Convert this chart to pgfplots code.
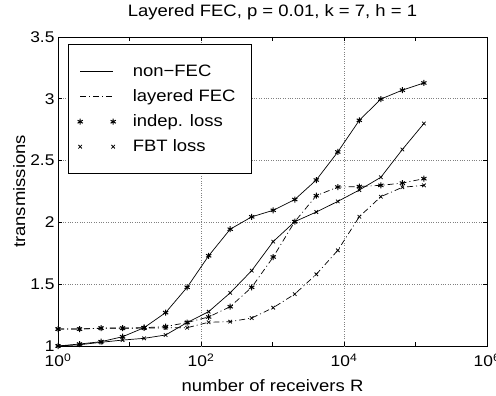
\documentclass[border=0pt]{standalone}
\usepackage{fontspec}
\setmainfont{Liberation Sans}[FakeStretch=1.12]
\usepackage{pgfplots}
\pgfplotsset{compat=1.18}
\usepackage{pgfplotstable}

\pgfplotsset{
  linelegend/.style={legend image code/.code={\draw[##1] (0bp,0bp) -- (33bp,0bp);}},
  marklegend/.style={legend image code/.code={\draw[##1, only marks] plot coordinates {(0bp,0bp) (33bp,0bp)};}},
  mdashdot/.style={dash pattern=on 6bp off 3bp on 1bp off 3bp},
}

\pgfplotstableread{
R      nonind  nonfbt  layind  layfbt
1      1.000   1.000   1.137   1.137
2      1.016   1.010   1.137   1.137
4      1.035   1.030   1.145   1.143
8      1.075   1.048   1.145   1.143
16     1.148   1.062   1.148   1.145
32     1.270   1.089   1.157   1.147
64     1.475   1.190   1.190   1.148
128    1.730   1.278   1.235   1.192
256    1.945   1.430   1.318   1.197
512    2.045   1.610   1.475   1.226
1024   2.098   1.845   1.720   1.310
2048   2.185   2.006   2.006   1.420
4096   2.343   2.084   2.216   1.580
8192   2.570   2.170   2.286   1.774
16384  2.826   2.262   2.290   2.046
32768  2.998   2.365   2.300   2.208
65536  3.070   2.590   2.318   2.284
131072 3.128   2.800   2.354   2.300
}\datatable

\begin{document}
\begin{tikzpicture}
\path[use as bounding box] (0bp,0bp) rectangle (496bp,396bp);
\begin{axis}[
  at={(58bp,50bp)}, anchor=south west,
  scale only axis, width=429bp, height=309bp,
  xmode=log, log basis x=10,
  xmin=1, xmax=1e6, ymin=1, ymax=3.5,
  xtick={1,10,100,1000,10000,100000,1000000},
  xticklabels={10\textsuperscript{0},,10\textsuperscript{2},,10\textsuperscript{4},,10\textsuperscript{6}},
  minor xtick={},
  extra x ticks={100,10000},
  extra x tick labels={},
  extra x tick style={grid=major},
  ytick={1,1.5,2,2.5,3,3.5},
  yticklabels={1,1.5,2,2.5,3,3.5},
  ymajorgrids,
  grid style={dotted, black!50, line width=0.6bp},
  tick align=inside, major tick length=4bp,
  tick style={black, line width=0.6bp},
  axis line style={line width=0.9bp},
  ticklabel style={font=\fontsize{15.5bp}{17bp}\selectfont},
  xticklabel style={yshift=-4.5bp},
  title={Layered FEC, p = 0.01, k = 7, h = 1},
  title style={at={(axis description cs:0.5,1.0485)}, anchor=base, font=\fontsize{16.5bp}{18bp}\selectfont},
  xlabel={number of receivers R},
  xlabel style={at={(axis description cs:0.5,-0.148)}, anchor=base, font=\fontsize{16.5bp}{18bp}\selectfont},
  ylabel={transmissions},
  ylabel style={at={(axis description cs:-0.0769,0.5)}, anchor=base, font=\fontsize{16.5bp}{18bp}\selectfont},
  legend style={at={(axis description cs:0.0233,0.977)}, anchor=north west,
    draw=black, line width=1.2bp, fill=white,
    inner xsep=9bp, inner ysep=19.5bp, row sep=10bp, column sep=0bp,
    font=\fontsize{16.5bp}{18bp}\selectfont,
    nodes={inner sep=0bp, text height=12bp, text depth=3bp}},
  legend cell align=left,
  every axis plot/.append style={line width=0.7bp},
]
\addplot[black, solid, mark=asterisk, mark size=3bp, mark options={solid, line width=1bp}, forget plot] table[x=R, y=nonind] {\datatable};
\addplot[black, solid, mark=x, mark size=2.5bp, mark options={solid, line width=0.8bp}, forget plot] table[x=R, y=nonfbt] {\datatable};
\addplot[black, mdashdot, mark=asterisk, mark size=3bp, mark options={solid, line width=1bp}, forget plot] table[x=R, y=layind] {\datatable};
\addplot[black, mdashdot, mark=x, mark size=2.5bp, mark options={solid, line width=0.8bp}, forget plot] table[x=R, y=layfbt] {\datatable};

\addlegendimage{black, solid, line width=0.7bp, linelegend}
\addlegendentry{\hspace{17bp}\makebox[110bp][l]{non\textminus FEC}}
\addlegendimage{black, mdashdot, line width=0.7bp, linelegend}
\addlegendentry{\hspace{17bp}\makebox[110bp][l]{layered FEC}}
\addlegendimage{black, line width=1bp, mark=asterisk, mark size=3bp, marklegend}
\addlegendentry{\hspace{17bp}\makebox[110bp][l]{indep. loss}}
\addlegendimage{black, line width=0.8bp, mark=x, mark size=2.5bp, marklegend}
\addlegendentry{\hspace{17bp}\makebox[110bp][l]{FBT loss}}
\end{axis}
\end{tikzpicture}
\end{document}
